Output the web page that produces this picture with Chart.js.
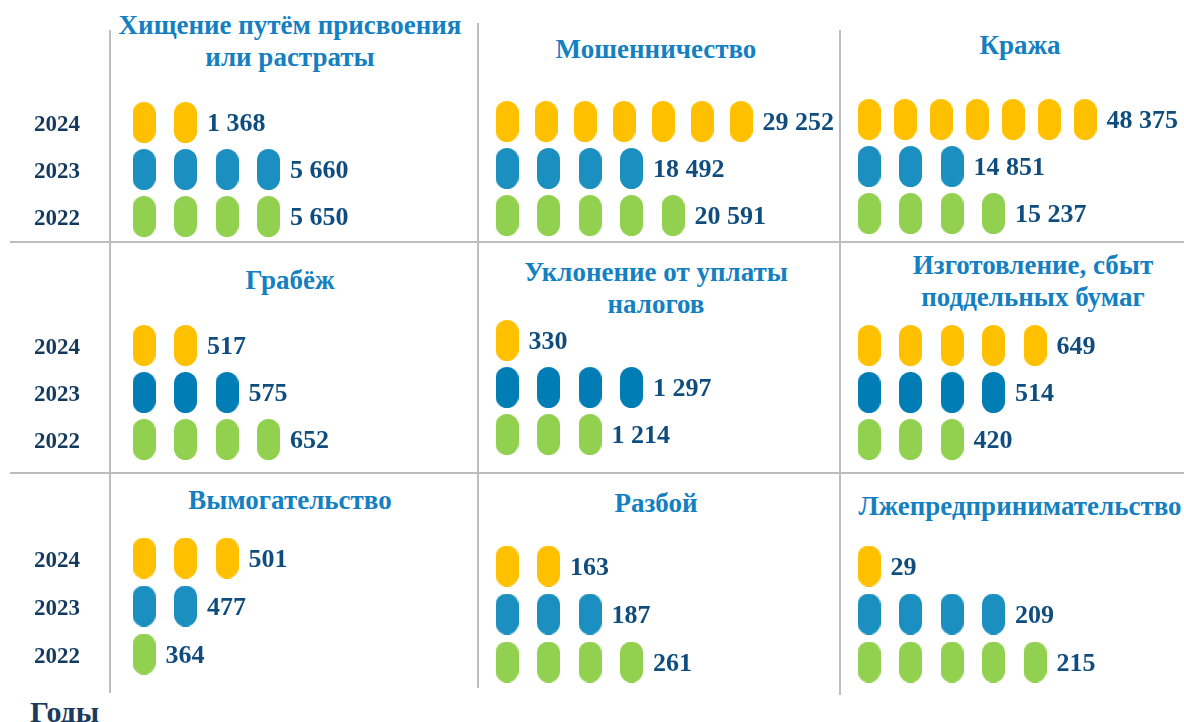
<!DOCTYPE html>
<html lang="ru">
<head>
<meta charset="utf-8">
<title>Виды преступлений, 2022–2024</title>
<script src="https://cdn.jsdelivr.net/npm/chart.js@4.4.1/dist/chart.umd.min.js"></script>
<style>
  html, body { margin: 0; padding: 0; background: #fff; }
  body { width: 1184px; height: 722px; position: relative; overflow: hidden;
         font-family: "Liberation Serif", "Times New Roman", serif; }
  .vl, .hl { position: absolute; background: #bdbdbd; }
  .vl { width: 2px; }
  .hl { height: 2px; }
  .ttl { position: absolute; width: 400px; text-align: center; white-space: pre-line;
         font-weight: bold; font-size: 27px; line-height: 32px; color: #147fc1; }
  .box { position: absolute; }
  #caption { position: absolute; left: 30px; top: 695px; font-weight: bold; font-size: 30px;
             line-height: 34px; color: #1b3a5c; }
</style>
</head>
<body>
<div id="grid"></div>
<div id="panels"></div>
<div id="caption">Годы</div>

<script>
// --- data ---
const years = ['2024', '2023', '2022'];
const titles = [
  'Хищение путём присвоения\nили растраты',
  'Мошенничество',
  'Кража',
  'Грабёж',
  'Уклонение от уплаты\nналогов',
  'Изготовление, сбыт\nподдельных бумаг',
  'Вымогательство',
  'Разбой',
  'Лжепредпринимательство'
];
// number of pill icons per row
const pills2024 = [2, 7, 7, 2, 1, 5, 3, 2, 1];
const pills2023 = [4, 4, 3, 3, 4, 4, 2, 3, 4];
const pills2022 = [4, 5, 4, 4, 3, 3, 1, 4, 5];
// registered cases
const values2024 = [1368, 29252, 48375, 517, 330, 649, 501, 163, 29];
const values2023 = [5660, 18492, 14851, 575, 1297, 514, 477, 187, 209];
const values2022 = [5650, 20591, 15237, 652, 1214, 420, 364, 261, 215];

// --- layout / style ---
const colLeft = [10, 478, 840];
const colRight = [478, 840, 1184];
const plotLeft = [110, 478, 840];
const firstPill = [144, 507, 869];
const titleCenter = [290, 656, 1020, 290, 656, 1033, 290, 656, 1020];
const rowCenter = [[122, 121, 119], [345, 340, 345], [558, 566, 566]];
const rowGap = [47, 47, 48];
const titleTop = [[9, 33, 29], [264, 256, 249], [484, 487, 490]];
const SLOT = 41.5;
const PILL_W = 23, PILL_H = 41;
const LABEL_GAP = 10;
const LABEL_FONT = 'bold 26px "Liberation Serif"';
const yellow = '#ffc000';
const blueLight = '#1b90c0';
const blueDark = '#007db4';
const green = '#92d050';

function fmt(n) {
  return String(n).replace(/\B(?=(\d{3})+(?!\d))/g, ' ');
}

function makePill(color) {
  const c = document.createElement('canvas');
  c.width = PILL_W; c.height = PILL_H;
  const g = c.getContext('2d');
  const r = PILL_W / 2;
  g.fillStyle = color;
  g.beginPath();
  g.arc(r, r, r, Math.PI, 0);
  g.lineTo(PILL_W, PILL_H - r);
  g.arc(r, PILL_H - r, r, 0, Math.PI);
  g.closePath();
  g.fill();
  return c;
}

const pillYellow = makePill(yellow);
const pillBlueLight = makePill(blueLight);
const pillBlueDark = makePill(blueDark);
const pillGreen = makePill(green);

const measureCtx = document.createElement('canvas').getContext('2d');
measureCtx.font = LABEL_FONT;

// grid lines
const grid = document.getElementById('grid');
function line(cls, css) {
  const d = document.createElement('div');
  d.className = cls;
  Object.assign(d.style, css);
  grid.appendChild(d);
}
line('vl', { left: '109px', top: '30px', height: '663px' });
line('vl', { left: '477px', top: '23px', height: '665px' });
line('vl', { left: '839px', top: '30px', height: '665px' });
line('hl', { left: '10px', top: '241px', width: '1174px' });
line('hl', { left: '10px', top: '472px', width: '1174px' });

const valueLabels = {
  id: 'valueLabels',
  afterDatasetsDraw(chart) {
    const ctx = chart.ctx;
    ctx.save();
    ctx.font = LABEL_FONT;
    ctx.fillStyle = '#0f4d7f';
    ctx.textAlign = 'left';
    ctx.textBaseline = 'middle';
    chart.data.datasets.forEach((ds, i) => {
      const pts = chart.getDatasetMeta(i).data;
      const last = pts[pts.length - 1];
      ctx.fillText(ds.valueText, last.x + PILL_W / 2 + LABEL_GAP, last.y + 2);
    });
    ctx.restore();
  }
};

const panels = document.getElementById('panels');

for (let p = 0; p < 9; p++) {
  const r = Math.floor(p / 3), c = p % 3;

  const t = document.createElement('div');
  t.className = 'ttl';
  t.textContent = titles[p];
  t.style.left = (titleCenter[p] - 200) + 'px';
  t.style.top = titleTop[r][c] + 'px';
  panels.appendChild(t);

  const box = document.createElement('div');
  box.className = 'box';
  const w = colRight[c] - colLeft[c];
  const h = rowGap[r] * 3;
  box.style.left = colLeft[c] + 'px';
  box.style.top = (rowCenter[r][c] - rowGap[r] / 2) + 'px';
  box.style.width = w + 'px';
  box.style.height = h + 'px';
  const cv = document.createElement('canvas');
  cv.width = w; cv.height = h;
  cv.style.width = w + 'px';
  cv.style.height = h + 'px';
  box.appendChild(cv);
  panels.appendChild(box);

  const counts = [pills2024[p], pills2023[p], pills2022[p]];
  const vals = [values2024[p], values2023[p], values2022[p]];
  const imgs = [pillYellow, r === 1 ? pillBlueDark : pillBlueLight, pillGreen];

  const datasets = years.map((yr, k) => {
    const n = counts[k];
    const text = fmt(vals[k]);
    // squeeze long rows so the number still fits inside the panel
    const limit = colRight[c] - 6 - measureCtx.measureText(text).width - LABEL_GAP - PILL_W / 2;
    const span = (limit - firstPill[c]) / SLOT;
    const step = n > 1 ? Math.min(1, span / (n - 1)) : 1;
    const pts = [];
    for (let i = 0; i < n; i++) pts.push({ x: i * step, y: yr });
    return {
      label: yr,
      data: pts,
      valueText: text,
      pointStyle: imgs[k],
      pointRadius: 12,
      pointHoverRadius: 12,
      clip: false
    };
  });

  const xMin = -(firstPill[c] - plotLeft[c]) / SLOT;
  const xMax = xMin + (colRight[c] - plotLeft[c]) / SLOT;

  const yScale = {
    type: 'category',
    labels: years,
    offset: true,
    display: c === 0,
    grid: { display: false, drawTicks: false },
    border: { display: false },
    ticks: {
      padding: 30,
      labelOffset: 3,
      color: '#133a5e',
      font: { family: 'Liberation Serif', weight: 'bold', size: 23 }
    }
  };
  if (c === 0) {
    yScale.afterFit = scale => {
      scale.width = plotLeft[0] - colLeft[0];
      scale.paddingTop = 0;
      scale.paddingBottom = 0;
    };
  }

  new Chart(cv, {
    type: 'scatter',
    data: { datasets },
    options: {
      responsive: false,
      maintainAspectRatio: false,
      animation: false,
      events: [],
      layout: { padding: 0, autoPadding: false },
      plugins: { legend: { display: false }, tooltip: { enabled: false } },
      scales: {
        x: { type: 'linear', min: xMin, max: xMax, display: false },
        y: yScale
      }
    },
    plugins: [valueLabels]
  });
}
</script>
</body>
</html>
